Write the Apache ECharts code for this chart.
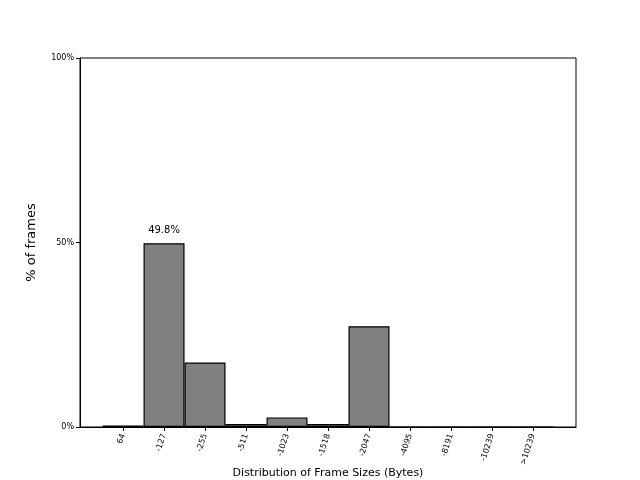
<!DOCTYPE html>
<html>
<head>
<meta charset="utf-8">
<script src="https://cdn.jsdelivr.net/npm/echarts@6/dist/echarts.min.js"></script>
<style>
  html, body { margin: 0; padding: 0; background: #fff; }
  #chart { width: 640px; height: 480px; }
</style>
</head>
<body>
<div id="chart"></div>
<script>
// Frame size distribution, percent of frames per size bucket
const sizeLabels = ['64', '-127', '-255', '-511', '-1023', '-1518', '-2047', '-4095', '-8191', '-10239', '>10239'];
const framePct = [0.4, 49.8, 17.5, 0.8, 2.6, 0.8, 27.3, 0, 0, 0, 0];
const yTicks = [0, 50, 100];
const xTitle = 'Distribution of Frame Sizes (Bytes)';

const chart = echarts.init(document.getElementById('chart'), null, { renderer: 'canvas' });

const positions = sizeLabels.map((_, i) => i);
const peak = Math.max(...framePct);

chart.setOption({
  backgroundColor: '#fff',
  animation: false,
  textStyle: { fontFamily: 'DejaVu Sans' },
  // x-axis title drawn as a title so it sits where the reference has it
  title: {
    text: xTitle,
    left: 328,
    top: 468,
    textAlign: 'center',
    padding: 0,
    textStyle: { color: '#000', fontSize: 11, fontWeight: 'normal' },
  },
  grid: {
    left: 80, right: 64, top: 58, bottom: 53,
    containLabel: false,
    outerBoundsMode: 'none',
    show: true, borderColor: '#000', borderWidth: 1, backgroundColor: 'transparent',
  },
  xAxis: {
    type: 'value',
    min: -1.05,
    max: 11.05,
    axisLine: { show: true, onZero: false, lineStyle: { color: '#000', width: 1 } },
    axisTick: { show: true, length: 4, customValues: positions, lineStyle: { color: '#000' } },
    axisLabel: {
      customValues: positions,
      rotate: 72,
      margin: 7,
      fontSize: 8,
      color: '#000',
      formatter: v => sizeLabels[Math.round(v)] || '',
    },
    splitLine: { show: false },
  },
  yAxis: {
    type: 'value',
    min: 0,
    max: 100,
    name: '% of frames',
    nameLocation: 'middle',
    nameGap: 42,
    nameTextStyle: { color: '#000', fontSize: 13 },
    axisLine: { show: true, onZero: false, lineStyle: { color: '#000', width: 1 } },
    axisTick: { show: true, length: 4, customValues: yTicks, lineStyle: { color: '#000' } },
    axisLabel: {
      customValues: yTicks,
      margin: 6,
      fontSize: 8,
      color: '#000',
      formatter: v => v + '%',
    },
    splitLine: { show: false },
  },
  series: [{
    type: 'bar',
    barWidth: 41,
    itemStyle: { color: '#808080', borderColor: '#000', borderWidth: 1.2 },
    data: framePct.map((v, i) => ({
      value: [i, v],
      label: v === peak ? {
        show: true, position: 'top', distance: 8, fontSize: 10, color: '#000',
        formatter: v.toFixed(1) + '%',
      } : { show: false },
    })),
  }],
});
</script>
</body>
</html>
